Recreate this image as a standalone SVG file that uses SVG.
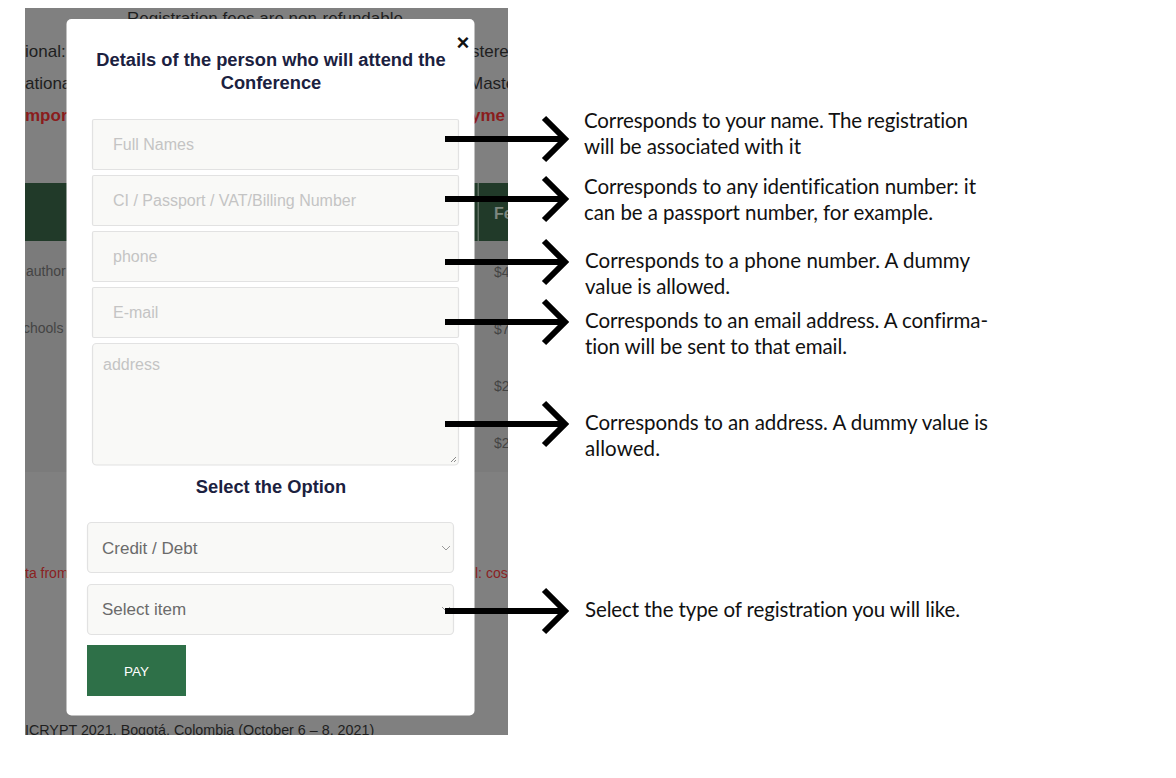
<svg xmlns="http://www.w3.org/2000/svg" width="1176" height="778" viewBox="0 0 1176 778">
<defs>
<clipPath id="bgclip"><rect x="25" y="8" width="483" height="727"/></clipPath>
<marker id="chev" markerUnits="userSpaceOnUse" viewBox="0 0 32 50" markerWidth="32" markerHeight="50" refX="25" refY="25" orient="auto" overflow="visible">
<path d="M4,4 L25,25 L4,46" fill="none" stroke="#000" stroke-width="6"/>
</marker>
</defs>
<style>
.bgt{font-family:"Liberation Sans",Arial,sans-serif;font-size:17px;fill:#1e1e1e}
.bgred{font-family:"Liberation Sans",Arial,sans-serif;font-size:17px;font-weight:bold;fill:#8a1c1c}
.bgs{font-family:"Liberation Sans",Arial,sans-serif;font-size:14px;fill:#444}
.field{fill:#f9f9f7;stroke:#e2e2e2;stroke-width:1.2}
.ph{font-family:"Liberation Sans",Arial,sans-serif;font-size:16px;fill:#c4c4c4}
.sel{font-family:"Liberation Sans",Arial,sans-serif;font-size:17px;fill:#6b6b6b}
.chevsm{fill:none;stroke:#9a9a9a;stroke-width:1}
.title{font-family:"Liberation Sans",Arial,sans-serif;font-size:18.3px;font-weight:bold;fill:#1b2140}
.arr{fill:none;stroke:#000;stroke-width:6;marker-end:url(#chev)}
.note{font-family:Lato,"Open Sans","Liberation Sans",sans-serif;font-size:20.5px;fill:#111;font-variant-ligatures:none}
</style>
<rect width="1176" height="778" fill="#fff"/>
<g id="page" clip-path="url(#bgclip)">
<rect x="25" y="8" width="483" height="727" fill="#808080"/>
<rect x="25" y="241" width="483" height="231" fill="#7b7b7b"/>
<rect x="25" y="183" width="483" height="58" fill="#213a29"/>
<rect x="477.5" y="183" width="1.5" height="58" fill="#5f6f63"/>
<text class="bgt" x="265" y="24" text-anchor="middle">Registration fees are non-refundable</text>
<text class="bgt" x="25" y="57">ional:</text>
<text class="bgt" x="25" y="89">ationa</text>
<text class="bgred" x="25" y="121">mpor</text>
<text class="bgt" x="471" y="57">stere</text>
<text class="bgt" x="469" y="89">Maste</text>
<text class="bgred" x="471" y="121">yme</text>
<text x="494" y="219" style="font-family:'Liberation Sans',Arial,sans-serif;font-size:16px;font-weight:bold;fill:#7d877f">Fe</text>
<text class="bgs" x="26" y="276">author</text>
<text class="bgs" x="23" y="333">chools</text>
<text class="bgs" x="494" y="277">$4</text>
<text class="bgs" x="494" y="334">$7</text>
<text class="bgs" x="494" y="391">$2</text>
<text class="bgs" x="494" y="448">$2</text>
<text x="25" y="578" style="font-family:'Liberation Sans',Arial,sans-serif;font-size:14px;fill:#8a2222">ta from</text>
<text x="475" y="578" style="font-family:'Liberation Sans',Arial,sans-serif;font-size:14px;fill:#8a2222">l: cos</text>
<text x="25" y="735" style="font-family:'Liberation Sans',Arial,sans-serif;font-size:14.3px;fill:#1e1e1e">ICRYPT 2021, Bogotá, Colombia (October 6 – 8, 2021)</text>
</g>
<g id="modal">
<rect x="66.5" y="19" width="408" height="696.5" rx="5" fill="#fff"/>
<text x="463" y="50" text-anchor="middle" style="font-family:'Liberation Sans',Arial,sans-serif;font-size:22px;font-weight:bold;fill:#111">×</text>
<text class="title" x="271" y="66" text-anchor="middle">Details of the person who will attend the</text>
<text class="title" x="271" y="89" text-anchor="middle">Conference</text>
</g>
<g id="field-fullnames">
<rect class="field" x="92.5" y="119.5" width="366" height="50" rx="1.5"/>
<text class="ph" x="113" y="150">Full Names</text>
</g>
<g id="field-ci">
<rect class="field" x="92.5" y="175.5" width="366" height="50" rx="1.5"/>
<text class="ph" x="113" y="206">CI / Passport / VAT/Billing Number</text>
</g>
<g id="field-phone">
<rect class="field" x="92.5" y="231.5" width="366" height="50" rx="1.5"/>
<text class="ph" x="113" y="262">phone</text>
</g>
<g id="field-email">
<rect class="field" x="92.5" y="287.5" width="366" height="50" rx="1.5"/>
<text class="ph" x="113" y="318">E-mail</text>
</g>
<g id="field-address">
<rect class="field" x="92.5" y="343.5" width="366" height="121.5" rx="4"/>
<text class="ph" x="103" y="370">address</text>
<path d="M451,462 L456,457 M454,462 L456,460" fill="none" stroke="#8a8a8a" stroke-width="1"/>
</g>
<g id="option-title">
<text class="title" x="271" y="493" text-anchor="middle">Select the Option</text>
</g>
<g id="select-payment">
<rect class="field" x="87.5" y="522.5" width="366" height="50" rx="4"/>
<text class="sel" x="102" y="554">Credit / Debt</text>
<polyline class="chevsm" points="442,546 446,550 450,546"/>
</g>
<g id="select-item">
<rect class="field" x="87.5" y="584.5" width="366" height="50" rx="4"/>
<text class="sel" x="102" y="615">Select item</text>
<polyline class="chevsm" points="442,607 446,611 450,607"/>
</g>
<g id="pay-button">
<rect x="87" y="645" width="99" height="51" fill="#2e7048"/>
<text x="136.5" y="675.5" text-anchor="middle" style="font-family:'Liberation Sans',Arial,sans-serif;font-size:13.5px;fill:#fff">PAY</text>
</g>
<g id="connectors">
<path class="arr" d="M445,139 H565"/>
<path class="arr" d="M445,199 H565"/>
<path class="arr" d="M445,262 H565"/>
<path class="arr" d="M445,322 H565"/>
<path class="arr" d="M445,424 H565"/>
<path class="arr" d="M445,611 H565"/>
</g>
<g id="note-name">
<text class="note" x="584" y="128" textLength="384">Corresponds to your name. The registration</text>
<text class="note" x="584" y="154" textLength="217">will be associated with it</text>
</g>
<g id="note-id">
<text class="note" x="584" y="194" textLength="392">Corresponds to any identification number: it</text>
<text class="note" x="584" y="220" textLength="349">can be a passport number, for example.</text>
</g>
<g id="note-phone">
<text class="note" x="585" y="268" textLength="385">Corresponds to a phone number. A dummy</text>
<text class="note" x="585" y="294" textLength="145">value is allowed.</text>
</g>
<g id="note-email">
<text class="note" x="585" y="328" textLength="403">Corresponds to an email address. A confirma-</text>
<text class="note" x="585" y="354" textLength="262">tion will be sent to that email.</text>
</g>
<g id="note-address">
<text class="note" x="585" y="430" textLength="403">Corresponds to an address. A dummy value is</text>
<text class="note" x="585" y="456" textLength="75">allowed.</text>
</g>
<g id="note-item">
<text class="note" x="585" y="617" textLength="375">Select the type of registration you will like.</text>
</g>
</svg>
